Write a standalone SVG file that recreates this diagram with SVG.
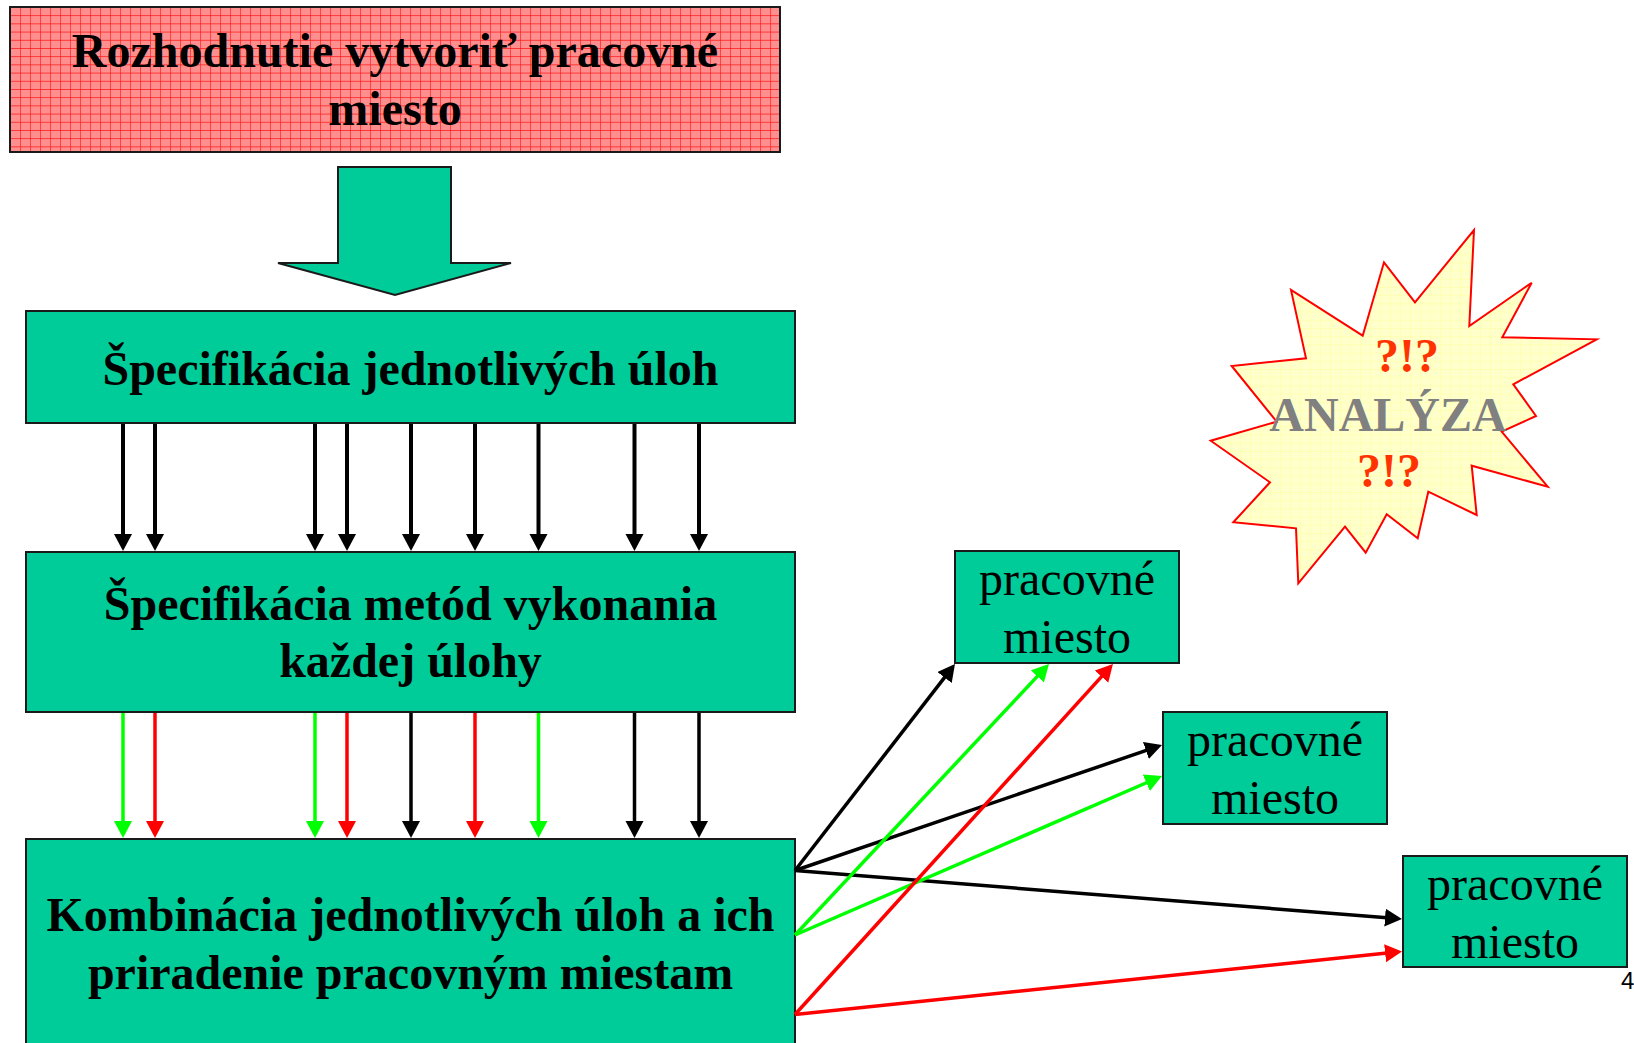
<svg xmlns="http://www.w3.org/2000/svg" width="1634" height="1043" viewBox="0 0 1634 1043">
<style>
.box{fill:#00CC99;stroke:#1a1a1a;stroke-width:2}
.tb{font-family:"Liberation Serif","Times New Roman",serif;font-weight:bold;font-size:48px;fill:#000;text-anchor:middle}
.tr{font-family:"Liberation Serif","Times New Roman",serif;font-size:48px;fill:#000;text-anchor:middle}
.k{stroke:#000;stroke-width:4;fill:none}
.g{stroke:#00FF00;stroke-width:3.5;fill:none}
.r{stroke:#FF0000;stroke-width:3.5;fill:none}
.kd{stroke:#000;stroke-width:3.5;fill:none}
</style>
<defs>
<pattern id="pinkgrid" patternUnits="userSpaceOnUse" x="10" y="7" width="10" height="8.2">
<rect width="10" height="8.2" fill="#FF8E8E"/>
<path d="M0,0H10M0,0V8.2" stroke="#FF1010" stroke-width="1.2"/>
</pattern>
<pattern id="yellowgrid" patternUnits="userSpaceOnUse" width="10" height="8.2">
<rect width="10" height="8.2" fill="#FFFFCC"/>
<path d="M0,0H10M0,0V8.2" stroke="#FFFF99" stroke-width="1"/>
</pattern>
<marker id="ak" markerUnits="userSpaceOnUse" markerWidth="20" markerHeight="20" refX="2" refY="9" orient="auto"><path d="M0,0L17,9L0,18Z" fill="#000"/></marker>
<marker id="ag" markerUnits="userSpaceOnUse" markerWidth="20" markerHeight="20" refX="2" refY="9" orient="auto"><path d="M0,0L17,9L0,18Z" fill="#00FF00"/></marker>
<marker id="ar" markerUnits="userSpaceOnUse" markerWidth="20" markerHeight="20" refX="2" refY="9" orient="auto"><path d="M0,0L17,9L0,18Z" fill="#FF0000"/></marker>
</defs>
<rect width="1634" height="1043" fill="#FFFFFF"/>

<g id="decision">
<rect x="10" y="7" width="770" height="145" fill="url(#pinkgrid)" stroke="#1a1a1a" stroke-width="2"/>
<text class="tb" x="395" y="67">Rozhodnutie vytvoriť pracovné</text>
<text class="tb" x="395" y="125">miesto</text>
</g>

<g id="block-arrow">
<polygon points="338,167 451,167 451,263 511,263 395,295 278,263 338,263" fill="#00CC99" stroke="#1a1a1a" stroke-width="2"/>
</g>

<g id="spec-tasks">
<rect class="box" x="26" y="311" width="769" height="112"/>
<text class="tb" x="410.5" y="385">Špecifikácia jednotlivých úloh</text>
</g>

<g id="spec-methods">
<rect class="box" x="26" y="552" width="769" height="160"/>
<text class="tb" x="410.5" y="620">Špecifikácia metód vykonania</text>
<text class="tb" x="410.5" y="677">každej úlohy</text>
</g>

<g id="combination">
<rect class="box" x="26" y="839" width="769" height="230"/>
<text class="tb" x="410.5" y="931">Kombinácia jednotlivých úloh a ich</text>
<text class="tb" x="410.5" y="989">priradenie pracovným miestam</text>
</g>

<g id="workplace-1">
<rect class="box" x="955" y="551" width="224" height="112"/>
<text class="tr" x="1067" y="595">pracovné</text>
<text class="tr" x="1067" y="653">miesto</text>
</g>

<g id="workplace-2">
<rect class="box" x="1163" y="712" width="224" height="112"/>
<text class="tr" x="1275" y="756">pracovné</text>
<text class="tr" x="1275" y="814">miesto</text>
</g>

<g id="workplace-3">
<rect class="box" x="1403" y="856" width="224" height="111"/>
<text class="tr" x="1515" y="900">pracovné</text>
<text class="tr" x="1515" y="958">miesto</text>
</g>

<g id="analysis">
<polygon points="1474,230 1469.3,326 1531.7,282.7 1502.3,337.3 1596.7,339.3 1513.3,384.3 1536,416 1501.7,431.7 1547.7,486.7 1471.7,465.7 1476.7,515 1428.3,491.7 1417.7,538.3 1386.7,514.3 1365.7,552.7 1345,526.7 1298.3,583.3 1296,528.3 1233.3,522.3 1270,482.3 1210.7,440.7 1276.7,421.7 1231.7,366 1306,358.3 1291,290 1362.7,335.7 1384,262.3 1415,302.3" fill="url(#yellowgrid)" stroke="#FF0000" stroke-width="2"/>
<text class="tb" x="1407" y="372" fill="#FF3300" style="fill:#FF3300">?!?</text>
<text class="tb" x="1388" y="431" style="fill:#808080">ANALÝZA</text>
<text class="tb" x="1389" y="487" style="fill:#FF3300">?!?</text>
</g>

<g id="connectors">
<line class="k" x1="123" y1="424" x2="123" y2="536" marker-end="url(#ak)"/>
<line class="k" x1="155" y1="424" x2="155" y2="536" marker-end="url(#ak)"/>
<line class="k" x1="315" y1="424" x2="315" y2="536" marker-end="url(#ak)"/>
<line class="k" x1="347" y1="424" x2="347" y2="536" marker-end="url(#ak)"/>
<line class="k" x1="411" y1="424" x2="411" y2="536" marker-end="url(#ak)"/>
<line class="k" x1="475" y1="424" x2="475" y2="536" marker-end="url(#ak)"/>
<line class="k" x1="538.5" y1="424" x2="538.5" y2="536" marker-end="url(#ak)"/>
<line class="k" x1="634.5" y1="424" x2="634.5" y2="536" marker-end="url(#ak)"/>
<line class="k" x1="699" y1="424" x2="699" y2="536" marker-end="url(#ak)"/>

<line class="g" x1="123" y1="713" x2="123" y2="823" marker-end="url(#ag)"/>
<line class="r" x1="155" y1="713" x2="155" y2="823" marker-end="url(#ar)"/>
<line class="g" x1="315" y1="713" x2="315" y2="823" marker-end="url(#ag)"/>
<line class="r" x1="347" y1="713" x2="347" y2="823" marker-end="url(#ar)"/>
<line class="kd" x1="411" y1="713" x2="411" y2="823" marker-end="url(#ak)"/>
<line class="r" x1="475" y1="713" x2="475" y2="823" marker-end="url(#ar)"/>
<line class="g" x1="538.5" y1="713" x2="538.5" y2="823" marker-end="url(#ag)"/>
<line class="kd" x1="634.5" y1="713" x2="634.5" y2="823" marker-end="url(#ak)"/>
<line class="kd" x1="699" y1="713" x2="699" y2="823" marker-end="url(#ak)"/>

<line class="kd" x1="795" y1="870.5" x2="945.8" y2="675.9" marker-end="url(#ak)"/>
<line class="kd" x1="795" y1="870.5" x2="1147.8" y2="749.9" marker-end="url(#ak)"/>
<line class="kd" x1="795" y1="870.5" x2="1387" y2="917.8" marker-end="url(#ak)"/>
<line class="g" x1="795" y1="935" x2="1038.7" y2="674.9" marker-end="url(#ag)"/>
<line class="g" x1="795" y1="935" x2="1148.2" y2="782" marker-end="url(#ag)"/>
<line class="r" x1="795" y1="1014.5" x2="1102.9" y2="675.1" marker-end="url(#ar)"/>
<line class="r" x1="795" y1="1014.5" x2="1387.1" y2="953" marker-end="url(#ar)"/>
</g>

<text x="1621" y="989" font-family="Liberation Sans, Arial, sans-serif" font-size="24" fill="#000">4</text>
</svg>
